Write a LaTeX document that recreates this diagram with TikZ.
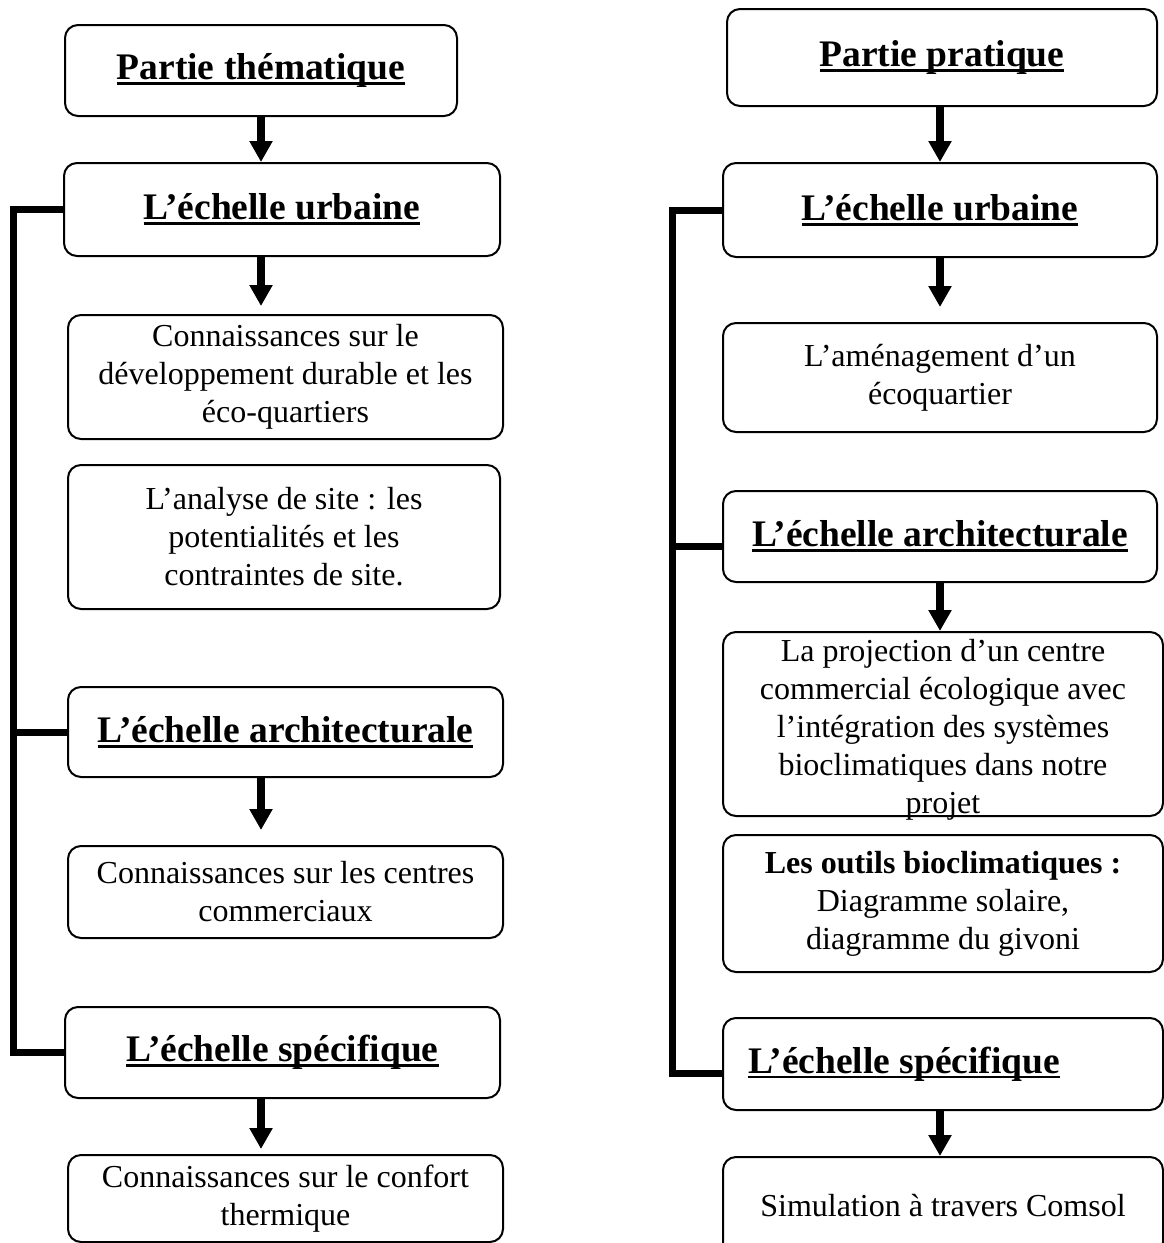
\documentclass[tikz,border=0pt]{standalone}
\usepackage{fontspec}
\setmainfont{Liberation Serif}
\usetikzlibrary{arrows.meta}
\newcommand{\souligne}[1]{\setbox0=\hbox{#1}\rlap{\rule[-0.14em]{\wd0}{0.075em}}\box0}
\begin{document}
\begin{tikzpicture}[x=1pt,y=-1pt,
  boite/.style={draw, line width=2pt, rounded corners=13pt, inner sep=0pt, align=center, font=\fontsize{32}{38}\selectfont},
  titre/.style={boite, font=\fontsize{37.5}{40}\selectfont\bfseries},
  fleche/.style={line width=8pt, -{Triangle[width=22pt,length=21pt]}},
  crochet/.style={line width=7pt}]
 \useasboundingbox (0,0) rectangle (1164,1243);
 \coordinate (cg) at (13,0);
 \coordinate (cd) at (672,0);
 % partie thematique
 \node[titre, minimum width=392pt, minimum height=91pt] (thema) at (261,70.5) {\souligne{Partie thématique}};
 \node[titre, minimum width=436pt, minimum height=93pt] (urbA) at (282,209.5) {\souligne{L’échelle urbaine}};
 \node[boite, minimum width=435pt, minimum height=124pt] (connDD) at (285.5,377) {Connaissances sur le\\ développement durable et les\\ éco-quartiers};
 \node[boite, minimum width=432pt, minimum height=144pt] (analyse) at (284,537) {L’analyse de site : les\\ potentialités et les\\ contraintes de site.};
 \node[titre, minimum width=435pt, minimum height=90pt] (archiA) at (285.5,732) {\souligne{L’échelle architecturale}};
 \node[boite, minimum width=435pt, minimum height=92pt] (connCC) at (285.5,892) {Connaissances sur les centres\\ commerciaux};
 \node[titre, minimum width=435pt, minimum height=91pt] (specA) at (282.5,1052.5) {\souligne{L’échelle spécifique}};
 \node[boite, minimum width=435pt, minimum height=87pt] (confort) at (285.5,1198.5) {Connaissances sur le confort\\ thermique};
 \draw[fleche] (thema.south) -- (urbA.north -| thema);
 \draw[fleche, shorten >=8pt] (urbA.south -| thema) -- (connDD.north -| thema);
 \draw[fleche, shorten >=15pt] (archiA.south -| thema) -- (connCC.north -| thema);
 \draw[fleche, shorten >=5pt] (specA.south -| thema) -- (confort.north -| thema);
 \draw[crochet] (urbA.west) -| (cg |- specA.west) -- (specA.west);
 \draw[crochet] (cg |- archiA.west) -- (archiA.west);
 % partie pratique
 \node[titre, minimum width=430pt, minimum height=97pt] (prat) at (942,57.5) {\souligne{Partie pratique}};
 \node[titre, minimum width=434pt, minimum height=94pt] (urbB) at (940,210) {\souligne{L’échelle urbaine}};
 \node[boite, minimum width=434pt, minimum height=109pt] (amenag) at (940,377.5) {L’aménagement d’un\\ écoquartier};
 \node[titre, minimum width=434pt, minimum height=91pt] (archiB) at (940,536.5) {\souligne{L’échelle architecturale}};
 \node[boite, inner ysep=-6pt, minimum width=440pt, minimum height=184pt] (projet) at (943,724) {\rule{0pt}{34pt}La projection d’un centre\\ commercial écologique avec\\ l’intégration des systèmes\\ bioclimatiques dans notre\\ projet};
 \node[boite, minimum width=440pt, minimum height=137pt] (outils) at (943,903.5) {\textbf{Les outils bioclimatiques~:}\\ Diagramme solaire,\\ diagramme du givoni};
 \node[titre, text width=390pt, align=flush left, minimum width=440pt, minimum height=92pt] (specB) at (943,1064) {\souligne{L’échelle spécifique}};
 \node[boite, minimum width=440pt, minimum height=98pt] (simul) at (943,1206) {Simulation à travers Comsol};
 \draw[fleche] (prat.south -| urbB) -- (urbB.north);
 \draw[fleche, shorten >=15pt] (urbB.south) -- (amenag.north -| urbB);
 \draw[fleche] (archiB.south) -- (projet.north -| archiB);
 \draw[fleche] (specB.south -| urbB) -- (simul.north -| urbB);
 \coordinate (basD) at ([yshift=-9pt]specB.west);
 \draw[crochet] (urbB.west) -| (cd |- basD) -- (basD);
 \draw[crochet] (cd |- archiB.west) ++(0,10) -- ([yshift=-10pt]archiB.west);
\end{tikzpicture}
\end{document}
